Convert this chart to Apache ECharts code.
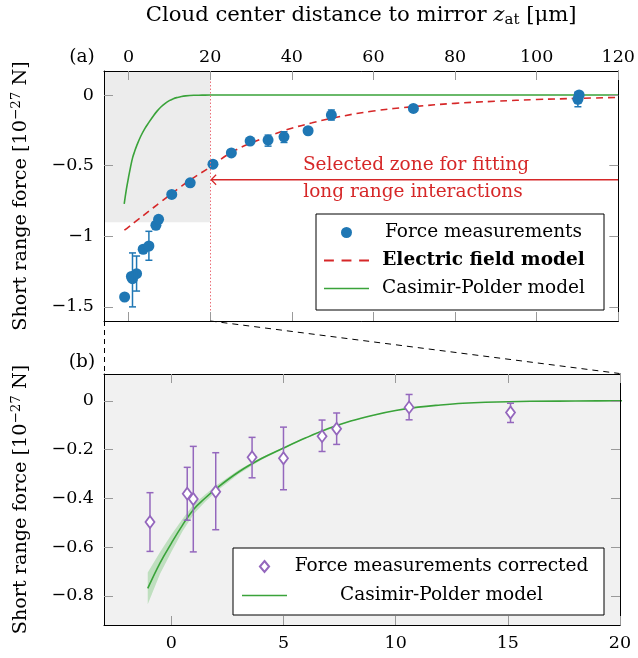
<!DOCTYPE html>
<html><head><meta charset="utf-8">
<script src="https://cdn.jsdelivr.net/npm/echarts@6/dist/echarts.min.js"></script>
<style>html,body{margin:0;padding:0;background:#fff}#c{width:638px;height:658px}</style>
</head><body><div id="c"></div>
<script>
// ---------- data ----------
// Panel (a): raw force measurements
const measX = [-0.95, 0.71, 0.98, 1.98, 3.6, 5.0, 6.72, 7.37, 10.6, 15.12, 20.7, 25.2, 29.8, 34.2, 38.1, 44.0, 49.7, 69.8, 110.1, 110.4];
const measY = [-1.43, -1.285, -1.30, -1.265, -1.092, -1.069, -0.922, -0.88, -0.704, -0.622, -0.49, -0.41, -0.326, -0.319, -0.296, -0.253, -0.142, -0.095, -0.03, 0.0];
const measErrX  = [0.98, 1.98, 5.0, 15.12, 34.2, 38.1, 49.7, 110.1];
const measErrLo = [-1.50, -1.388, -1.17, -0.645, -0.362, -0.336, -0.177, -0.083];
const measErrHi = [-1.118, -1.14, -0.965, -0.60, -0.284, -0.26, -0.106, 0.02];
// Electric field model
const efX = [-1, 0, 2, 4, 6, 8, 10, 13, 16, 20, 25, 30, 35, 40, 45, 50, 60, 70, 80, 90, 100, 110, 120];
const efY = [-0.957, -0.935, -0.89, -0.845, -0.80, -0.755, -0.71, -0.645, -0.585, -0.51, -0.41, -0.34, -0.285, -0.235, -0.197, -0.163, -0.113, -0.082, -0.059, -0.044, -0.032, -0.024, -0.017];
// Casimir-Polder model
const cpX = [-1.05, -0.5, 0, 0.5, 1, 1.5, 2, 3, 4, 5, 6, 7, 8, 9, 10, 11, 12, 13, 14, 16, 18, 20, 30, 60, 90, 120];
const cpY = [-0.77, -0.665, -0.585, -0.51, -0.445, -0.40, -0.36, -0.292, -0.238, -0.194, -0.152, -0.114, -0.083, -0.059, -0.040, -0.026, -0.017, -0.010, -0.006, -0.002, -0.001, 0, 0, 0, 0, 0];
// Casimir-Polder uncertainty band
const bandX  = [-1.05, -0.5, 0, 0.5, 1, 1.5, 2, 3, 4, 5, 6, 8, 10];
const bandLo = [-0.835, -0.71, -0.62, -0.535, -0.465, -0.415, -0.372, -0.30, -0.243, -0.197, -0.154, -0.084, -0.040];
const bandHi = [-0.705, -0.62, -0.55, -0.485, -0.425, -0.385, -0.348, -0.284, -0.233, -0.191, -0.150, -0.082, -0.040];
// Panel (b): corrected measurements
const corrX  = [-0.95, 0.71, 0.98, 1.98, 3.6, 5.0, 6.72, 7.37, 10.6, 15.12];
const corrY  = [-0.497, -0.381, -0.403, -0.373, -0.232, -0.236, -0.145, -0.115, -0.027, -0.048];
const corrLo = [-0.618, -0.49, -0.62, -0.529, -0.316, -0.365, -0.208, -0.179, -0.078, -0.089];
const corrHi = [-0.377, -0.273, -0.187, -0.213, -0.15, -0.108, -0.079, -0.05, 0.026, -0.01];
// fitting zone / arrow
const zoneX = [-6, 20];
const zoneY = [-0.9, 0.17];
const arrowY = -0.6, arrowFrom = 120, arrowTo = 20;
// ticks
const topXTicks = [0, 20, 40, 60, 80, 100, 120];
const topYTicks = [-1.5, -1, -0.5, 0];
const botXTicks = [0, 5, 10, 15, 20];
const botYTicks = [-0.8, -0.6, -0.4, -0.2, 0];
const topXRange = [-6, 120], topYRange = [-1.6, 0.17];
const botXRange = [-3, 20],  botYRange = [-0.92, 0.11];

// ---------- styling ----------
const FONT = "'DejaVu Serif', serif";
const C_BLUE = '#1f77b4', C_RED = '#d62728', C_GREEN = '#3aa33a', C_PURPLE = '#9467bd';
const fmt = v => String(v).replace('-', '\u2212');
const zip = (a, b) => a.map((x, i) => [x, b[i]]);

function axis(kind, grid, pos, range, ticks, showLabel, extra) {
  const o = {
    type: 'value', gridIndex: grid, position: pos, min: range[0], max: range[1], z: 6,
    axisLine: {show: true, onZero: false, lineStyle: {color: '#000', width: 1}},
    axisTick: {show: true, inside: true, length: 9, customValues: ticks, lineStyle: {color: '#9a9a9a', width: 1}},
    axisLabel: {show: showLabel, customValues: ticks, formatter: fmt, fontFamily: FONT, fontSize: 17.5, color: '#000',
      margin: kind === 'x' ? (pos === 'top' ? 5 : 9) : 10},
    splitLine: {show: false}
  };
  return Object.assign(o, extra || {});
}

const titleRich = {
  t: {fontFamily: FONT, fontSize: 21.2, lineHeight: 26, color: '#000'},
  i: {fontFamily: FONT, fontSize: 21.2, lineHeight: 26, fontStyle: 'italic', color: '#000'},
  s: {fontFamily: FONT, fontSize: 15, lineHeight: 15, verticalAlign: 'bottom', color: '#000'}
};
const yRich = {
  t: {fontFamily: FONT, fontSize: 19.2, lineHeight: 24, color: '#000'},
  sup: {fontFamily: FONT, fontSize: 13.5, lineHeight: 14, verticalAlign: 'top', color: '#000'}
};
const yName = '{t|Short range force [10}{sup|\u221227}{t| N]}';

function errRender(color) {
  return function (params, api) {
    const x = api.value(0);
    const p1 = api.coord([x, api.value(1)]);
    const p2 = api.coord([x, api.value(2)]);
    const w = 3.5, st = {stroke: color, lineWidth: 1.5};
    return {type: 'group', children: [
      {type: 'line', shape: {x1: p1[0], y1: p1[1], x2: p2[0], y2: p2[1]}, style: st},
      {type: 'line', shape: {x1: p1[0] - w, y1: p1[1], x2: p1[0] + w, y2: p1[1]}, style: st},
      {type: 'line', shape: {x1: p2[0] - w, y1: p2[1], x2: p2[0] + w, y2: p2[1]}, style: st}
    ]};
  };
}

// legend icons (shape only, no data)
const ICON_DASH = 'path://M0,0H9V1.6H0Z M16,0H25V1.6H16Z M32,0H41V1.6H32Z';
const ICON_SOLID = 'path://M0,0H45V1.6H0Z';
const ICON_DIAMOND = 'path://M4.6,0L9.2,5.5L4.6,11L0,5.5Z';

const chart = echarts.init(document.getElementById('c'), null, {renderer: 'canvas'});
const option = {
  animation: false,
  backgroundColor: '#fff',
  grid: [
    {left: 104, top: 71, right: 18, height: 250, show: false},
    {left: 104, top: 374, right: 18, height: 251, show: true, backgroundColor: '#f1f1f1', borderWidth: 0}
  ],
  xAxis: [
    axis('x', 0, 'top', topXRange, topXTicks, true, {
      name: '{t|Cloud center distance to mirror }{i|z}{s|at}{t| [\u03bcm]}',
      nameLocation: 'middle', nameGap: 43, nameTextStyle: {rich: titleRich}
    }),
    axis('x', 0, 'bottom', topXRange, topXTicks, false),
    axis('x', 1, 'bottom', botXRange, botXTicks, true),
    axis('x', 1, 'top', botXRange, botXTicks, false)
  ],
  yAxis: [
    axis('y', 0, 'left', topYRange, topYTicks, true, {
      name: yName, nameLocation: 'middle', nameGap: 71, nameRotate: 90, nameTextStyle: {rich: yRich}
    }),
    axis('y', 0, 'right', topYRange, topYTicks, false),
    axis('y', 1, 'left', botYRange, botYTicks, true, {
      name: yName, nameLocation: 'middle', nameGap: 71, nameRotate: 90, nameTextStyle: {rich: yRich}
    }),
    axis('y', 1, 'right', botYRange, botYTicks, false)
  ],
  legend: [
    {
      data: [
        {name: 'Force measurements'},
        {name: 'Electric field model', icon: ICON_DASH},
        {name: 'Casimir-Polder model', icon: ICON_SOLID}
      ],
      orient: 'vertical', left: 316, top: 214, itemWidth: 45, itemHeight: 11, itemGap: 9,
      padding: [9, 11, 12, 8], borderColor: '#000', borderWidth: 1, backgroundColor: '#fff',
      selectedMode: false, z: 20, symbolKeepAspect: true,
      formatter: n => (n === 'Electric field model' ? '{b|' : '{t|') + n + '}',
      textStyle: {rich: {
        t: {fontFamily: FONT, fontSize: 18.5, width: 219, align: 'center', lineHeight: 20, color: '#000'},
        b: {fontFamily: FONT, fontSize: 18.5, width: 219, align: 'center', lineHeight: 20, color: '#000', fontWeight: 'bold'}
      }}
    },
    {
      data: [
        {name: 'Force measurements corrected', icon: ICON_DIAMOND},
        {name: 'Casimir-Polder model', icon: ICON_SOLID}
      ],
      orient: 'vertical', left: 233, top: 548, itemWidth: 45, itemHeight: 11, itemGap: 10,
      padding: [9, 13, 10, 9], borderColor: '#000', borderWidth: 1, backgroundColor: '#fff',
      selectedMode: false, z: 20, symbolKeepAspect: true,
      formatter: n => '{t|' + n + '}',
      textStyle: {rich: {
        t: {fontFamily: FONT, fontSize: 18.5, width: 299, align: 'center', lineHeight: 20, color: '#000'}
      }}
    }
  ],
  series: [
    { // fitting zone shading + x=20 marker
      name: 'zone', type: 'line', xAxisIndex: 0, yAxisIndex: 0, data: [], z: 1, silent: true,
      markArea: {silent: true, itemStyle: {color: '#ececec'},
        data: [[{xAxis: zoneX[0], yAxis: zoneY[0]}, {xAxis: zoneX[1], yAxis: zoneY[1]}]]},
      markLine: {silent: true, symbol: 'none', label: {show: false},
        lineStyle: {type: [1.5, 2], color: '#ea6f78', width: 1},
        data: [{xAxis: zoneX[1]}]}
    },
    {
      name: 'Electric field model', type: 'line', xAxisIndex: 0, yAxisIndex: 0, z: 3,
      data: zip(efX, efY), smooth: 0.4, symbol: 'none', showSymbol: false,
      lineStyle: {color: C_RED, width: 1.6, type: [7, 5]}, itemStyle: {color: C_RED}
    },
    {
      name: 'Casimir-Polder model', type: 'line', xAxisIndex: 0, yAxisIndex: 0, z: 3,
      data: zip(cpX, cpY), smooth: 0.4, symbol: 'none', showSymbol: false,
      lineStyle: {color: C_GREEN, width: 1.6}, itemStyle: {color: C_GREEN}
    },
    {
      name: 'Force measurements', type: 'scatter', xAxisIndex: 0, yAxisIndex: 0, z: 4,
      data: zip(measX, measY), symbol: 'circle', symbolSize: 11, itemStyle: {color: C_BLUE, opacity: 1}
    },
    {
      name: 'errA', type: 'custom', xAxisIndex: 0, yAxisIndex: 0, z: 5,
      data: measErrX.map((x, i) => [x, measErrLo[i], measErrHi[i]]),
      encode: {x: 0, y: [1, 2]}, renderItem: errRender(C_BLUE)
    },
    {
      name: 'arrow', type: 'custom', xAxisIndex: 0, yAxisIndex: 0, z: 3,
      data: [[arrowFrom, arrowY, arrowTo]], encode: {x: [0, 2], y: 1},
      renderItem: function (params, api) {
        const a = api.coord([api.value(0), api.value(1)]);
        const b = api.coord([api.value(2), api.value(1)]);
        return {type: 'group', children: [
          {type: 'line', shape: {x1: a[0], y1: a[1], x2: b[0] + 1, y2: b[1]}, style: {stroke: C_RED, lineWidth: 1.6}},
          {type: 'polyline', shape: {points: [[b[0] + 6, b[1] - 5], [b[0] + 1, b[1]], [b[0] + 6, b[1] + 5]]},
            style: {stroke: C_RED, lineWidth: 1.2, fill: null}}
        ]};
      }
    },
    {
      name: 'band', type: 'custom', xAxisIndex: 2, yAxisIndex: 2, z: 2,
      data: bandX.map((x, i) => [x, bandLo[i], bandHi[i]]), encode: {x: 0, y: [1, 2]},
      renderItem: function (params, api) {
        if (params.dataIndex !== 0) return;
        const pts = [];
        for (let i = 0; i < bandX.length; i++) pts.push(api.coord([bandX[i], bandHi[i]]));
        for (let i = bandX.length - 1; i >= 0; i--) pts.push(api.coord([bandX[i], bandLo[i]]));
        return {type: 'polygon', shape: {points: pts}, style: {fill: 'rgba(60,175,60,0.28)'}};
      }
    },
    {
      name: 'Casimir-Polder model', type: 'line', xAxisIndex: 2, yAxisIndex: 2, z: 3,
      data: zip(cpX, cpY), smooth: 0.4, symbol: 'none', showSymbol: false,
      lineStyle: {color: C_GREEN, width: 1.6}, itemStyle: {color: C_GREEN}
    },
    {
      name: 'errB', type: 'custom', xAxisIndex: 2, yAxisIndex: 2, z: 4,
      data: corrX.map((x, i) => [x, corrLo[i], corrHi[i]]),
      encode: {x: 0, y: [1, 2]}, renderItem: errRender(C_PURPLE)
    },
    {
      name: 'Force measurements corrected', type: 'scatter', xAxisIndex: 2, yAxisIndex: 2, z: 5,
      data: zip(corrX, corrY), symbol: 'diamond', symbolSize: [9, 12],
      itemStyle: {color: '#fff', borderColor: C_PURPLE, borderWidth: 1.8, opacity: 1}
    }
  ],
  graphic: [
    {type: 'text', x: 82, y: 57, z: 30, style: {text: '(a)', fontFamily: FONT, fontSize: 18.5, fill: '#000', align: 'center', verticalAlign: 'middle'}},
    {type: 'text', x: 82, y: 362, z: 30, style: {text: '(b)', fontFamily: FONT, fontSize: 18.5, fill: '#000', align: 'center', verticalAlign: 'middle'}},
    {type: 'text', x: 416, y: 165, z: 30, style: {text: 'Selected zone for fitting', fontFamily: FONT, fontSize: 18.5, fill: C_RED, align: 'center', verticalAlign: 'middle'}},
    {type: 'text', x: 413, y: 192, z: 30, style: {text: 'long range interactions', fontFamily: FONT, fontSize: 18.5, fill: C_RED, align: 'center', verticalAlign: 'middle'}},
    {type: 'line', z: 30, shape: {x1: 104.5, y1: 321, x2: 104.5, y2: 374}, style: {stroke: '#000', lineWidth: 1, lineDash: [5, 4]}},
    {type: 'line', z: 30, shape: {x1: 210.5, y1: 321, x2: 619.5, y2: 373.5}, style: {stroke: '#000', lineWidth: 1, lineDash: [6, 5]}}
  ]
};
chart.setOption(option);
</script>
</body></html>
